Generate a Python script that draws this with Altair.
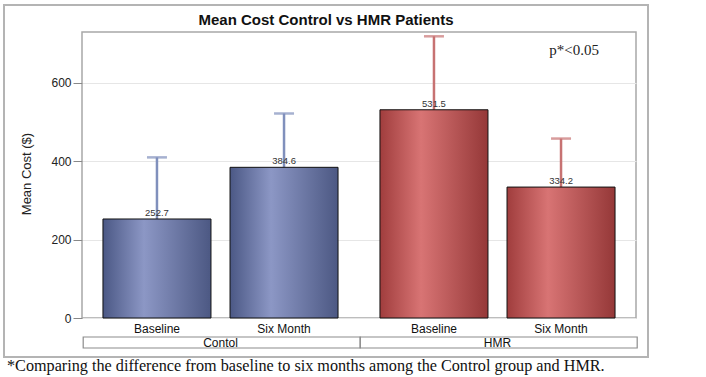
import altair as alt
import pandas as pd

groups = ["Contol", "Contol", "HMR", "HMR"]
periods = ["Baseline", "Six Month", "Baseline", "Six Month"]
means = [252.7, 384.6, 531.5, 334.2]
uppers = [410, 522, 719, 458]
y_ticks = [0, 200, 400, 600]

df = pd.DataFrame({"group": groups, "period": periods, "mean": means, "upper": uppers})
df["label"] = df["mean"].map(lambda v: f"{v:.1f}")

W, H = 554, 286
YMAX = 730

x_enc = alt.X("group:N", scale=alt.Scale(paddingInner=0, paddingOuter=0), axis=None)
xo_enc = alt.XOffset("period:N", scale=alt.Scale(paddingInner=0.15, paddingOuter=0.165))
y_scale = alt.Scale(domain=[0, YMAX], nice=False)

def grad(edge, light, edge2):
    return alt.Gradient(
        gradient="linear", x1=0, x2=1, y1=0, y2=0,
        stops=[alt.GradientStop(color=edge, offset=0),
               alt.GradientStop(color=light, offset=0.38),
               alt.GradientStop(color=edge2, offset=1)])

base = alt.Chart(df).encode(x=x_enc, xOffset=xo_enc)

one = pd.DataFrame({"k": [0]})

frame = alt.Chart(one).mark_rect(fill=None, stroke="#b4b4b4", strokeWidth=2).encode(
    x=alt.value(-78), x2=alt.value(566), y=alt.value(-27), y2=alt.value(325))

axis_layer = base.mark_bar(opacity=0).encode(
    y=alt.Y("mean:Q", scale=y_scale,
            axis=alt.Axis(values=y_ticks, title=None, grid=True, gridColor="#e6e6e6",
                          domain=False, tickColor="#888", tickSize=9, labelPadding=2,
                          labelFont="Liberation Sans", labelFontSize=12, labelColor="#222")))

color_scale = alt.Scale(domain=["Contol", "HMR"], range=["#8090bc", "#c77272"])

rules = base.mark_rule(strokeWidth=2.5).encode(
    y=alt.Y("mean:Q", scale=y_scale), y2="upper:Q",
    color=alt.Color("group:N", scale=color_scale, legend=None))
caps = base.mark_tick(size=20, thickness=2.5, orient="horizontal").encode(
    y=alt.Y("upper:Q", scale=y_scale),
    color=alt.Color("group:N", scale=color_scale, legend=None))

bars_c = base.transform_filter(alt.datum.group == "Contol").mark_bar(
    color=grad("#4b5885", "#8c97c5", "#4c5883"), stroke="#111", strokeWidth=1).encode(
    y=alt.Y("mean:Q", scale=y_scale))
bars_h = base.transform_filter(alt.datum.group == "HMR").mark_bar(
    color=grad("#a03d3d", "#d87474", "#953838"), stroke="#111", strokeWidth=1).encode(
    y=alt.Y("mean:Q", scale=y_scale))

vals = base.mark_text(fontSize=9.5, font="Liberation Sans", fontWeight="normal", color="#333",
                      baseline="bottom", dy=-1).encode(
    y=alt.Y("mean:Q", scale=y_scale), text="label:N")

period_lbl = base.mark_text(fontSize=12, font="Liberation Sans", fontWeight="normal", color="#111",
                            baseline="middle").encode(
    y=alt.value(297), text="period:N")

group_df = pd.DataFrame({"group": ["Contol", "HMR"]})
gbox = alt.Chart(group_df).mark_rect(fill=None, stroke="#8c8c8c", strokeWidth=1.2,
                                     xOffset=1.2, x2Offset=-1.2).encode(
    x=x_enc, y=alt.value(305), y2=alt.value(316))
glbl = alt.Chart(group_df).mark_text(fontSize=12, font="Liberation Sans", fontWeight="normal",
                                     color="#111", baseline="middle").encode(
    x=x_enc, y=alt.value(310.5), text="group:N")

title = alt.Chart(one).mark_text(font="Liberation Sans", fontSize=15, fontWeight="bold", color="#111",
                                 align="center", baseline="middle").encode(
    x=alt.value(244), y=alt.value(-12), text=alt.value("Mean Cost Control vs HMR Patients"))

ytitle = alt.Chart(one).mark_text(font="Liberation Sans", fontSize=13, fontWeight="normal", color="#222",
                                  align="center", baseline="middle", angle=270).encode(
    x=alt.value(-55), y=alt.value(142), text=alt.value("Mean Cost ($)"))

ptext = alt.Chart(one).mark_text(font="Liberation Serif", fontSize=15, fontWeight="normal", color="#222",
                                 align="right", baseline="middle").encode(
    x=alt.value(517), y=alt.value(18), text=alt.value("p*<0.05"))

foot = alt.Chart(one).mark_text(font="Liberation Serif", fontSize=16.2, fontWeight="normal", color="#111",
                                align="left", baseline="middle").encode(
    x=alt.value(-75), y=alt.value(334),
    text=alt.value("*Comparing the difference from baseline to six months among the Control group and HMR."))

chart = alt.layer(frame, axis_layer, rules, caps, bars_c, bars_h, vals, period_lbl, gbox, glbl,
                  title, ytitle, ptext, foot).properties(
    width=W, height=H,
    autosize=alt.AutoSizeParams(type="none"),
    padding={"left": 82, "top": 32, "right": 70, "bottom": 59},
    background="white",
).configure_view(stroke="#a8a8a8", strokeWidth=1.5)

chart.save("out.html", embed_options={"renderer": "svg", "actions": False})
